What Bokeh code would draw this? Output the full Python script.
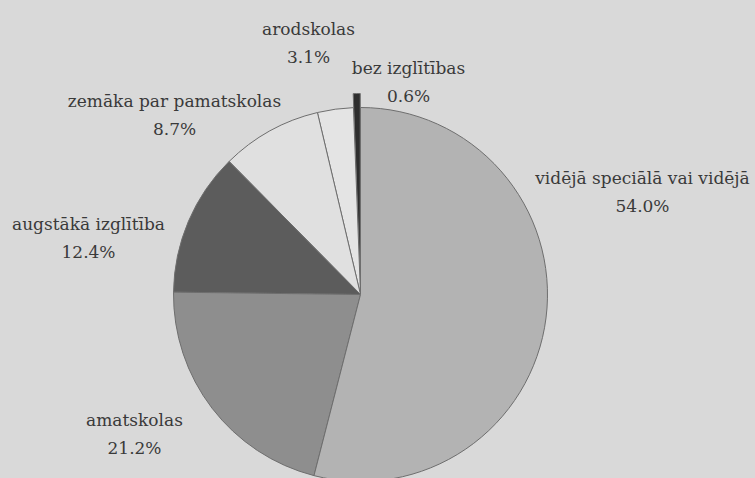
import math
from bokeh.plotting import figure
from bokeh.models import ColumnDataSource, Range1d
from bokeh.core.properties import value
from bokeh.embed import file_html
from bokeh.resources import INLINE

# Data (counter-clockwise from 12 o'clock)
categories = ["bez izglītības", "arodskolas", "zemāka par pamatskolas",
              "augstākā izglītība", "amatskolas", "vidējā speciālā vai vidējā"]
shares = [0.6, 3.1, 8.7, 12.4, 21.2, 54.0]
colors = ["#2e2e2e", "#e4e4e4", "#e0e0e0", "#5c5c5c", "#8e8e8e", "#b3b3b3"]

# layout
W, H = 755, 478
cx, cy, R = 360, 184, 187
explode = [14, 0, 0, 0, 0, 0]
label_dx = [48, -52, -186, -272, -226, 282]
label_dy = [227, 266, 194, 71, -125, 117]
line_gap = 28
BG = "#d9d9d9"

total = sum(shares)
starts, ends, xs, ys = [], [], [], []
a = math.pi / 2
for s, e in zip(shares, explode):
    span = 2 * math.pi * s / total
    mid = a + span / 2
    starts.append(a)
    ends.append(a + span)
    xs.append(cx + e * math.cos(mid))
    ys.append(cy + e * math.sin(mid))
    a += span

src = ColumnDataSource(dict(x=xs, y=ys, start=starts, end=ends, color=colors))

p = figure(width=W, height=H, output_backend="svg", toolbar_location=None,
           x_range=Range1d(0, W), y_range=Range1d(0, H),
           min_border=0, background_fill_color=BG, border_fill_color=BG,
           outline_line_color=None)
p.axis.visible = False
p.grid.visible = False

p.wedge(x="x", y="y", radius=R, start_angle="start", end_angle="end",
        fill_color="color", line_color="#6e6e6e", line_width=1, source=src)

lx = [cx + d for d in label_dx]
ly = [cy + d for d in label_dy]
pct = [f"{v:.1f}%" for v in shares]
lsrc = ColumnDataSource(dict(x=lx, y=ly, y2=[v - line_gap for v in ly],
                             name=categories, pct=pct))
common = dict(text_font=value("DejaVu Serif"), text_font_size="17px",
              text_color="#3a3a3a", text_align="center", text_baseline="middle",
              source=lsrc)
p.text(x="x", y="y", text="name", **common)
p.text(x="x", y="y2", text="pct", **common)

html = file_html(p, INLINE)
html = html.replace("<head>", "<head><style>html,body{background:%s;margin:0;}</style>" % BG, 1)
open("out.html", "w").write(html)
